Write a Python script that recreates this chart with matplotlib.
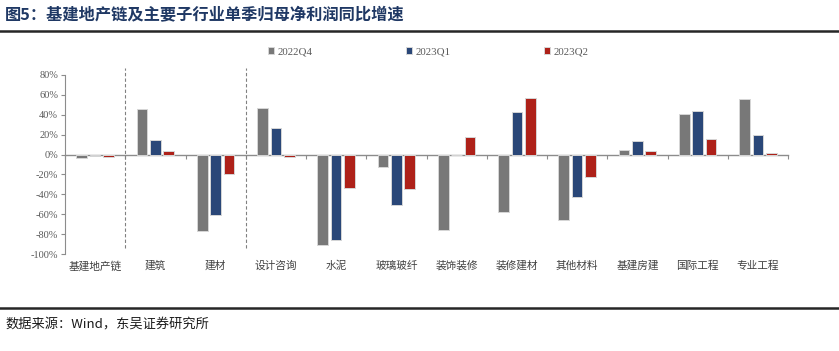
import matplotlib
matplotlib.use("Agg")
import matplotlib.pyplot as plt
import matplotlib.transforms as mtransforms
import numpy as np

plt.rcParams['font.family'] = ['Noto Sans CJK SC', 'DejaVu Sans']

categories = ["基建地产链", "建筑", "建材", "设计咨询", "水泥", "玻璃玻纤", "装饰装修",
              "装修建材", "其他材料", "基建房建", "国际工程", "专业工程"]
series_names = ["2022Q4", "2023Q1", "2023Q2"]
q4_2022 = [-3.5, 45.5, -76.5, 46.5, -91, -12.5, -75.5, -58, -66, 5, 41, 56]
q1_2023 = [-1.5, 15, -60.5, 27, -86, -50.5, 0, 43, -43, 13.5, 44, 19.5]
q2_2023 = [-2.5, 3.5, -20, -2, -34, -35, 17.5, 57, -23, 3.5, 16, 1.5]
colors = ["#787878", "#2a4778", "#ae2119"]
yticks = [80, 60, 40, 20, 0, -20, -40, -60, -80, -100]

fig = plt.figure(figsize=(8.39, 3.51), dpi=100)
ax = fig.add_axes([65/839, 1-254/351, (788-65)/839, (254-75)/351])

x = np.arange(len(categories))
width = 0.175
step = 0.222
for i, (vals, c, name) in enumerate(zip([q4_2022, q1_2023, q2_2023], colors, series_names)):
    ax.bar(x + (i-1)*step, vals, width=width, color=c, edgecolor="#d6d6d6",
           linewidth=0.7, label=name, zorder=2)

ax.set_xlim(-0.5, len(categories)-0.5)
ax.set_ylim(-100, 80)
ax.set_yticks(yticks)
ax.set_yticklabels([f"{v}%" for v in yticks], family="Liberation Serif",
                   fontsize=7.5, color="#595959")
ax.tick_params(axis='y', direction='out', length=3, width=0.8, color="#8c8c8c", pad=2)

for s in ['top', 'right']:
    ax.spines[s].set_visible(False)
ax.spines['left'].set_color("#8c8c8c")
ax.spines['left'].set_linewidth(0.8)
ax.spines['bottom'].set_position(('data', 0))
ax.spines['bottom'].set_color("#8c8c8c")
ax.spines['bottom'].set_linewidth(1.0)
ax.spines['bottom'].set_zorder(1.5)
ax.set_xticks([])
ax.set_xticks(np.arange(len(categories)+1) - 0.5, minor=True)
ax.tick_params(axis='x', which='minor', direction='out', length=3, width=0.8,
               color="#8c8c8c", labelbottom=False)

trans = mtransforms.blended_transform_factory(ax.transData, ax.transAxes)
for xi, lab in zip(x, categories):
    ax.text(xi, -0.067, lab, transform=trans, ha='center', va='center',
            fontsize=7.7, color="#404040")

for b in [0.5, 2.5]:
    ax.axvline(b, ymin=0.034, ymax=1.039, color="#808080", linestyle=(0, (3, 2)),
               linewidth=0.8, clip_on=False)

leg = fig.legend(loc='center', bbox_to_anchor=(428/839, 1-52/351), ncol=3,
                 frameon=False, handlelength=0.6, handleheight=0.6,
                 handletextpad=0.3, columnspacing=8.6,
                 prop={'family': 'Liberation Serif', 'size': 7.8})
for t in leg.get_texts():
    t.set_color("#595959")

fig.text(5/839, 1-15/351, "图5：基建地产链及主要子行业单季归母净利润同比增速",
         fontsize=11.7, fontweight='bold', color="#1f3864", ha='left', va='center')
fig.add_artist(plt.Line2D([0, 1], [1-31/351, 1-31/351], color="#262626", linewidth=1.8))
fig.add_artist(plt.Line2D([0, 1], [1-308/351, 1-308/351], color="#262626", linewidth=1.8))
fig.text(5/839, 1-325/351, "数据来源：Wind，东吴证券研究所", fontsize=9.5,
         color="#1a1a1a", ha='left', va='center')

fig.savefig("out.png", dpi=100)
